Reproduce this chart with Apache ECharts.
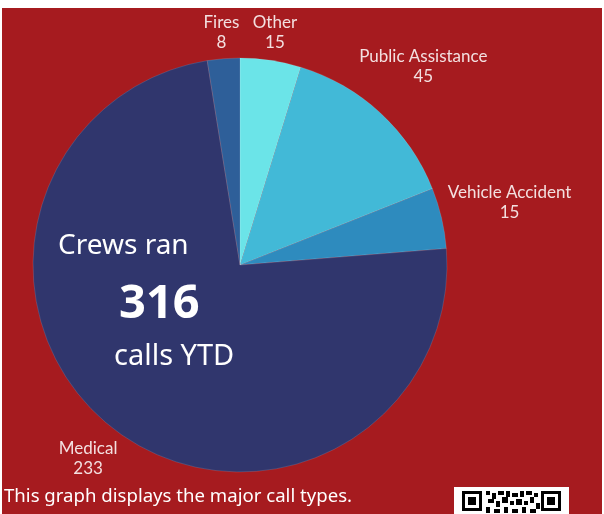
<!DOCTYPE html>
<html>
<head>
<meta charset="utf-8">
<script src="https://cdn.jsdelivr.net/npm/echarts@6/dist/echarts.min.js"></script>
<style>
html,body{margin:0;padding:0;background:#fff;width:604px;height:514px;overflow:hidden;}
#bg{position:absolute;left:2px;top:8px;width:600px;height:506px;background:#A61B1F;}
#chart{position:absolute;left:0;top:0;width:604px;height:514px;}
</style>
</head>
<body>
<div id="bg"></div>
<div id="chart"></div>
<script>
var categories = ['Other', 'Public Assistance', 'Vehicle Accident', 'Medical', 'Fires'];
var values = [15, 45, 15, 233, 8];
var colors = ['#6BE4E8', '#42B9D7', '#2E8BBE', '#30366D', '#2E5F99'];
var totalLabel = '316';

var CX = 240, CY = 265, R = 207, GAP = 5;
var total = values.reduce(function(a,b){return a+b;},0);
var mids = [];
(function(){ var c=0; for (var i=0;i<values.length;i++){ mids.push((c+values[i]/2)/total*2*Math.PI); c+=values[i]; } })();

var chart = echarts.init(document.getElementById('chart'), null, {renderer:'canvas'});
var qr = [
  [462,491,20,20,'#000'],[465,494,14,14,'#fff'],[468,497,8,8,'#000'],
  [541,491,20,20,'#000'],[544,494,14,14,'#fff'],[547,497,8,8,'#000'],
  [486,491,4,4,'#000'],[492,493,4,6,'#000'],[498,491,6,4,'#000'],[506,491,4,6,'#000'],
  [512,493,6,4,'#000'],[520,491,4,6,'#000'],[526,491,6,4,'#000'],[534,493,4,4,'#000'],
  [488,499,6,4,'#000'],[496,501,4,6,'#000'],[502,497,6,6,'#000'],[510,501,4,4,'#000'],
  [516,499,6,6,'#000'],[524,501,4,4,'#000'],[530,497,4,6,'#000'],[486,507,4,6,'#000'],
  [494,509,6,4,'#000'],[504,507,4,6,'#000'],[512,509,6,4,'#000'],[522,507,4,6,'#000'],
  [530,509,6,4,'#000'],[536,503,4,6,'#000']
];
var graphics = [
  {type:'text', left:58, top:244-12, z:10, style:{text:'Crews ran', fill:'#fff', font:'28px "Noto Sans"'}},
  {type:'text', left:119, top:302-21, z:10, style:{text:totalLabel, fill:'#fff', font:'bold 47px "Noto Sans"'}},
  {type:'text', left:114, top:355-13, z:10, style:{text:'calls YTD', fill:'#fff', font:'29px "Noto Sans"'}},
  {type:'text', left:4, top:495-8, z:10, style:{text:'This graph displays the major call types.', fill:'#fff', font:'18.6px "Noto Sans"'}},
  {type:'rect', shape:{x:454,y:487,width:115,height:27}, style:{fill:'#fff'}, z:10}
];
qr.forEach(function(q){ graphics.push({type:'rect', shape:{x:q[0],y:q[1],width:q[2],height:q[3]}, style:{fill:q[4]}, z:11}); });

chart.setOption({
  animation:false,
  backgroundColor:'transparent',
  graphic: graphics,
  series:[{
    type:'pie',
    center:[CX, CY],
    radius:[0, R],
    startAngle:90,
    clockwise:true,
    avoidLabelOverlap:false,
    itemStyle:{borderColor:'rgba(255,255,255,0.25)', borderWidth:0.5},
    label:{
      show:true,
      position:'outside',
      formatter:'{b}\n{c}',
      color:'#F3E0E0',
      fontFamily:'Lato',
      fontSize:17,
      lineHeight:20,
      align:'center'
    },
    labelLine:{show:false},
    labelLayout:function(p){
      var th = mids[p.dataIndex];
      var ux = Math.sin(th), uy = -Math.cos(th);
      var w = p.labelRect.width, h = p.labelRect.height;
      var d = R + GAP + Math.abs(ux)*w/2 + Math.abs(uy)*h/2;
      return {x: CX + ux*d, y: CY + uy*d, align:'center', verticalAlign:'middle'};
    },
    data: categories.map(function(c,i){ return {name:c, value:values[i], itemStyle:{color:colors[i]}}; })
  }]
});
</script>
</body>
</html>
